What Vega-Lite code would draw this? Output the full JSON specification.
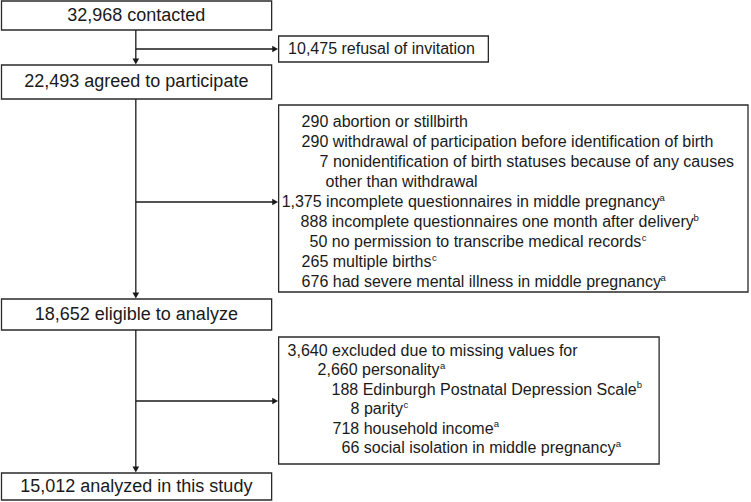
{
  "$schema": "https://vega.github.io/schema/vega-lite/v6.json",
  "width": 751,
  "height": 502,
  "autosize": {"type": "fit", "contains": "padding"},
  "padding": 0,
  "background": "white",
  "config": {"view": {"stroke": null}, "axis": {"disable": true}},
  "datasets": {
    "boxes": [
      {"id": "b1", "x0": 0.5, "x1": 271, "y0": 1, "y1": 30},
      {"id": "refusal", "x0": 278, "x1": 488, "y0": 36, "y1": 62},
      {"id": "b2", "x0": 0.5, "x1": 271, "y0": 65, "y1": 99},
      {"id": "ex1", "x0": 278, "x1": 748, "y0": 105, "y1": 292},
      {"id": "b3", "x0": 0.5, "x1": 271, "y0": 299, "y1": 330},
      {"id": "ex2", "x0": 278, "x1": 659, "y0": 337, "y1": 464},
      {"id": "b5", "x0": 0.5, "x1": 271, "y0": 473, "y1": 500}
    ],
    "lines": [
      {"x0": 135, "x1": 135, "y0": 30, "y1": 62},
      {"x0": 135, "x1": 135, "y0": 99, "y1": 296},
      {"x0": 135, "x1": 135, "y0": 330, "y1": 470},
      {"x0": 135, "x1": 275, "y0": 49, "y1": 49},
      {"x0": 135, "x1": 275, "y0": 202, "y1": 202},
      {"x0": 135, "x1": 275, "y0": 401, "y1": 401}
    ],
    "arrows": [
      {"x": 135, "y": 61.5, "dir": "down"},
      {"x": 135, "y": 295.5, "dir": "down"},
      {"x": 135, "y": 469.5, "dir": "down"},
      {"x": 274.5, "y": 49, "dir": "right"},
      {"x": 274.5, "y": 202, "dir": "right"},
      {"x": 274.5, "y": 401, "dir": "right"}
    ],
    "main": [
      {"x": 135.5, "y": 16, "label": "32,968 contacted", "size": 18},
      {"x": 135.5, "y": 82, "label": "22,493 agreed to participate", "size": 18},
      {"x": 135.5, "y": 314.5, "label": "18,652 eligible to analyze", "size": 18},
      {"x": 135.5, "y": 486.5, "label": "15,012 analyzed in this study", "size": 18},
      {"x": 381, "y": 49, "label": "10,475 refusal of invitation", "size": 16}
    ],
    "lefttext": [
      {"x": 301, "y": 122, "label": "290 abortion or stillbirth"},
      {"x": 301, "y": 142, "label": "290 withdrawal of participation before identification of birth"},
      {"x": 319, "y": 162, "label": "7 nonidentification of birth statuses because of any causes"},
      {"x": 325, "y": 182, "label": "other than withdrawal"},
      {"x": 281, "y": 202, "label": "1,375 incomplete questionnaires in middle pregnancy"},
      {"x": 300, "y": 222, "label": "888 incomplete questionnaires one month after delivery"},
      {"x": 309, "y": 242, "label": "50 no permission to transcribe medical records"},
      {"x": 301, "y": 262, "label": "265 multiple births"},
      {"x": 301, "y": 282, "label": "676 had severe mental illness in middle pregnancy"},
      {"x": 287, "y": 351, "label": "3,640 excluded due to missing values for"},
      {"x": 317, "y": 370, "label": "2,660 personality"},
      {"x": 331, "y": 389.5, "label": "188 Edinburgh Postnatal Depression Scale"},
      {"x": 350, "y": 409, "label": "8 parity"},
      {"x": 332, "y": 428.5, "label": "718 household income"},
      {"x": 341, "y": 448, "label": "66 social isolation in middle pregnancy"}
    ],
    "sups": [
      {"x": 659.5, "y": 197.5, "label": "a"},
      {"x": 693.5, "y": 217.5, "label": "b"},
      {"x": 641.5, "y": 237.5, "label": "c"},
      {"x": 431.5, "y": 257.5, "label": "c"},
      {"x": 660.5, "y": 277.5, "label": "a"},
      {"x": 439.5, "y": 365.5, "label": "a"},
      {"x": 636.5, "y": 385, "label": "b"},
      {"x": 403, "y": 404.5, "label": "c"},
      {"x": 493.5, "y": 424, "label": "a"},
      {"x": 615.5, "y": 443.5, "label": "a"}
    ]
  },
  "layer": [
    {
      "data": {"name": "boxes"},
      "mark": {"type": "rect", "fill": "white", "stroke": "#2a2a2a", "strokeWidth": 1.3},
      "encoding": {
        "x": {"field": "x0", "type": "quantitative", "scale": {"domain": [0, 751], "nice": false, "zero": false}, "axis": null},
        "x2": {"field": "x1"},
        "y": {"field": "y0", "type": "quantitative", "scale": {"domain": [0, 502], "nice": false, "zero": false, "reverse": true}, "axis": null},
        "y2": {"field": "y1"}
      }
    },
    {
      "data": {"name": "lines"},
      "mark": {"type": "rule", "stroke": "#1a1a1a", "strokeWidth": 1.3},
      "encoding": {
        "x": {"field": "x0", "type": "quantitative"},
        "x2": {"field": "x1"},
        "y": {"field": "y0", "type": "quantitative"},
        "y2": {"field": "y1"}
      }
    },
    {
      "data": {"name": "arrows"},
      "mark": {"type": "point", "filled": true, "fill": "#1a1a1a", "strokeWidth": 0, "size": 45, "opacity": 1},
      "encoding": {
        "x": {"field": "x", "type": "quantitative"},
        "y": {"field": "y", "type": "quantitative"},
        "shape": {"field": "dir", "type": "nominal", "scale": {"domain": ["down", "right"], "range": ["triangle-down", "triangle-right"]}, "legend": null}
      }
    },
    {
      "data": {"name": "main"},
      "mark": {"type": "text", "align": "center", "baseline": "middle", "font": "Liberation Sans", "color": "#1a1a1a"},
      "encoding": {
        "x": {"field": "x", "type": "quantitative"},
        "y": {"field": "y", "type": "quantitative"},
        "text": {"field": "label"},
        "size": {"field": "size", "type": "quantitative", "scale": null}
      }
    },
    {
      "data": {"name": "lefttext"},
      "mark": {"type": "text", "align": "left", "baseline": "middle", "font": "Liberation Sans", "fontSize": 16, "color": "#1a1a1a"},
      "encoding": {
        "x": {"field": "x", "type": "quantitative"},
        "y": {"field": "y", "type": "quantitative"},
        "text": {"field": "label"}
      }
    },
    {
      "data": {"name": "sups"},
      "mark": {"type": "text", "align": "left", "baseline": "middle", "font": "Liberation Sans", "fontSize": 9.5, "color": "#1a1a1a"},
      "encoding": {
        "x": {"field": "x", "type": "quantitative"},
        "y": {"field": "y", "type": "quantitative"},
        "text": {"field": "label"}
      }
    }
  ]
}
